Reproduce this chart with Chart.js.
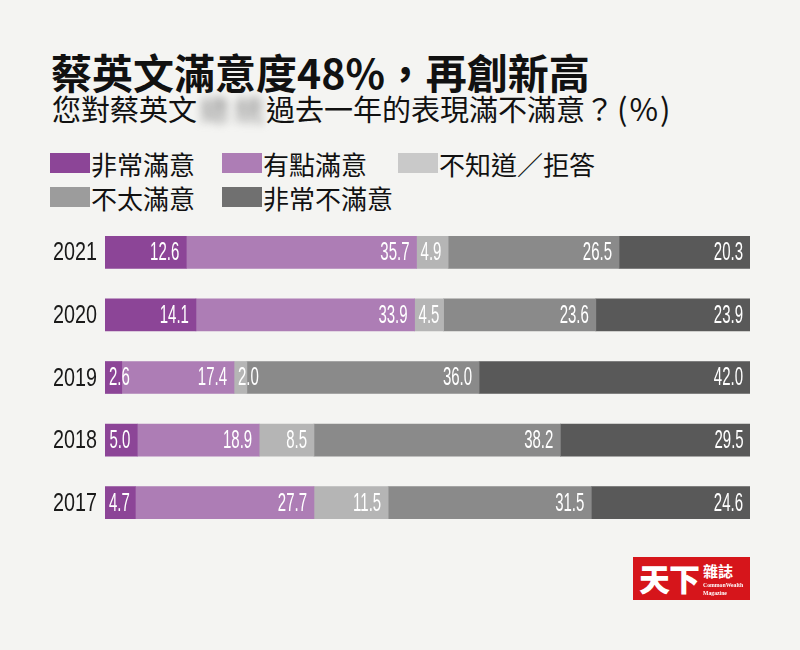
<!DOCTYPE html>
<html>
<head>
<meta charset="utf-8">
<script src="https://cdn.jsdelivr.net/npm/chart.js@4/dist/chart.umd.min.js"></script>
<style>
  html, body { margin: 0; padding: 0; }
  body { width: 800px; height: 650px; background: #f4f4f2; position: relative; overflow: hidden;
         font-family: "Noto Sans CJK TC", "Noto Sans", sans-serif; color: #111; }
  #title { position: absolute; left: 51px; top: 49px; font-size: 41px; line-height: 44px; font-weight: 700; }
  #subtitle { position: absolute; left: 52px; top: 92px; font-size: 29px; line-height: 32px; white-space: nowrap; }
  #subtitle .blur { display: inline-block; width: 69px; filter: blur(4px); color: #8a8a8a; letter-spacing: 6px; padding-left: 3px; box-sizing: border-box; }
  #subtitle .pct { font-size: 31px; letter-spacing: 2px; margin-left: 3px; }
  #legend { position: absolute; left: 50px; top: 146px; display: grid;
            grid-template-columns: 172px 176px auto; row-gap: 0; }
  .item { display: flex; align-items: center; height: 34px; font-size: 26px; }
  .sw { width: 40px; height: 20px; margin-right: 1px; }
  #chart { position: absolute; left: 0; top: 221px; }
  #logo { position: absolute; left: 633px; top: 557px; width: 117px; height: 43px; background: #d6151b; color: #fff; overflow: hidden; }
  #logo .big { position: absolute; left: 6px; top: 2px; font-size: 31px; line-height: 38px; font-weight: 900; letter-spacing: -1px; }
  #logo .mid { position: absolute; left: 70px; top: 5px; font-size: 15px; line-height: 17px; font-weight: 700; }
  #logo .small { position: absolute; left: 70px; top: 24px; font-size: 7px; line-height: 8px; font-family: "Liberation Serif", serif; font-weight: 700;
                 transform: scaleX(0.82); transform-origin: left top; white-space: nowrap; }
</style>
</head>
<body>
<div id="title">蔡英文滿意度48%，再創新高</div>
<div id="subtitle">您對蔡英文<span class="blur">總統</span>過去一年的表現滿不滿意？<span class="pct">(%)</span></div>
<div id="legend"></div>
<canvas id="chart" width="800" height="313"></canvas>
<div id="logo"><span class="big">天下</span><span class="mid">雜誌</span><span class="small">CommonWealth<br>Magazine</span></div>
<script>
const years = ['2021', '2020', '2019', '2018', '2017'];
const seriesNames = ['非常滿意', '有點滿意', '不知道／拒答', '不太滿意', '非常不滿意'];
const verySatisfied = [12.6, 14.1, 2.6, 5.0, 4.7];
const somewhatSatisfied = [35.7, 33.9, 17.4, 18.9, 27.7];
const dontKnow = [4.9, 4.5, 2.0, 8.5, 11.5];
const notVerySatisfied = [26.5, 23.6, 36.0, 38.2, 31.5];
const veryUnsatisfied = [20.3, 23.9, 42.0, 29.5, 24.6];

const barColors = ['#8c4597', '#ad7db5', '#b5b5b5', '#8a8a8a', '#595959'];
const legendColors = ['#8c4597', '#ad7db5', '#c9c9c9', '#9c9c9c', '#707070'];

const legendEl = document.getElementById('legend');
seriesNames.forEach((name, i) => {
  const item = document.createElement('div');
  item.className = 'item';
  item.innerHTML = '<span class="sw" style="background:' + legendColors[i] + '"></span>' + name;
  legendEl.appendChild(item);
});

const allSeries = [verySatisfied, somewhatSatisfied, dontKnow, notVerySatisfied, veryUnsatisfied];

// narrow numbers: draw squeezed text
function narrowText(ctx, txt, x, y, sx) {
  ctx.save();
  ctx.translate(x, y);
  ctx.scale(sx, 1);
  ctx.fillText(txt, 0, 0);
  ctx.restore();
}

const valueLabels = {
  id: 'valueLabels',
  afterDatasetsDraw(chart) {
    const ctx = chart.ctx;
    const sx = 0.6;
    ctx.save();
    ctx.fillStyle = '#ffffff';
    ctx.font = '25px "Liberation Sans", Arial, sans-serif';
    ctx.textAlign = 'left';
    ctx.textBaseline = 'middle';
    chart.data.datasets.forEach((ds, di) => {
      const meta = chart.getDatasetMeta(di);
      meta.data.forEach((bar, i) => {
        const txt = ds.data[i].toFixed(1);
        const w = ctx.measureText(txt).width * sx;
        const left = Math.min(bar.x, bar.base);
        const right = Math.max(bar.x, bar.base);
        const x = Math.max(right - 7 - w, left + 4);
        narrowText(ctx, txt, x, bar.y + 1, sx);
      });
    });

    // year labels from the category scale
    const yScale = chart.scales.y;
    ctx.fillStyle = '#1a1a1a';
    ctx.font = '26px "Liberation Sans", Arial, sans-serif';
    chart.data.labels.forEach((lab, i) => {
      const w = ctx.measureText(lab).width * 0.76;
      narrowText(ctx, lab, 97 - w, yScale.getPixelForValue(i) + 1, 0.76);
    });
    ctx.restore();
  }
};

new Chart(document.getElementById('chart'), {
  type: 'bar',
  data: {
    labels: years,
    datasets: allSeries.map((d, i) => ({
      label: seriesNames[i],
      data: d,
      backgroundColor: barColors[i],
      borderWidth: 0,
      barThickness: 32
    }))
  },
  options: {
    indexAxis: 'y',
    responsive: false,
    animation: false,
    layout: { padding: { left: 0, right: 50, top: 0, bottom: 0 } },
    plugins: {
      legend: { display: false },
      tooltip: { enabled: false }
    },
    scales: {
      x: { stacked: true, min: 0, max: 100, display: false },
      y: {
        stacked: true,
        grid: { display: false },
        border: { display: false },
        ticks: { display: false },
        afterFit(scale) { scale.width = 105; }
      }
    }
  },
  plugins: [valueLabels]
});
</script>
</body>
</html>
